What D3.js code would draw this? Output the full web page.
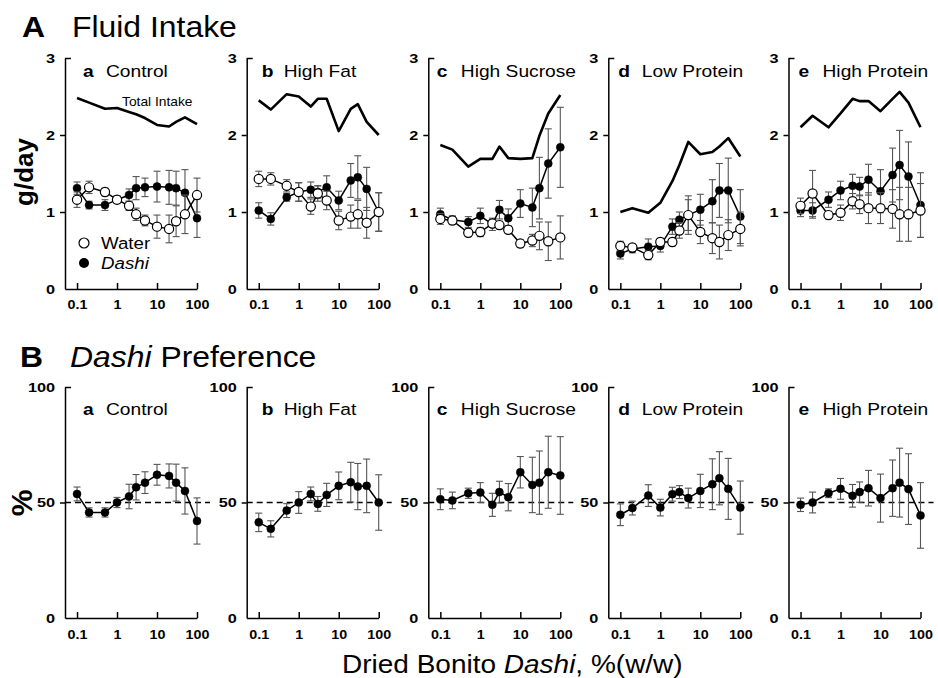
<!DOCTYPE html>
<html>
<head>
<meta charset="utf-8">
<script src="https://cdn.jsdelivr.net/npm/d3@7"></script>
<style>
  body { margin: 0; background: #fff; }
  text { font-family: "Liberation Sans", Arial, Helvetica, sans-serif; }
</style>
</head>
<body>
<div id="chart"></div>
<script>
// Chart Data
const conc = [0.1, 0.2, 0.5, 1, 2, 3, 5, 10, 20, 30, 50, 100];
const dietNames = ["Control", "High Fat", "High Sucrose", "Low Protein", "High Protein"];
const panelLetters = ["a", "b", "c", "d", "e"];

const totalIntake = [
  [2.48, 2.42, 2.34, 2.35, 2.30, 2.27, 2.22, 2.13, 2.11, 2.17, 2.23, 2.14],
  [2.45, 2.33, 2.53, 2.50, 2.37, 2.47, 2.47, 2.05, 2.34, 2.40, 2.17, 2.00],
  [1.87, 1.81, 1.59, 1.69, 1.69, 1.85, 1.70, 1.69, 1.70, 1.99, 2.28, 2.52],
  [1.00, 1.05, 0.99, 1.12, 1.40, 1.61, 1.91, 1.75, 1.78, 1.85, 1.96, 1.72],
  [2.10, 2.25, 2.10, 2.28, 2.47, 2.44, 2.44, 2.31, 2.47, 2.56, 2.42, 2.10]
];
const waterIntake = [
  [1.16, 1.32, 1.26, 1.16, 1.08, 0.97, 0.89, 0.81, 0.78, 0.88, 0.97, 1.22],
  [1.43, 1.43, 1.34, 1.26, 1.07, 1.24, 1.15, 0.89, 0.94, 0.97, 0.86, 1.00],
  [0.91, 0.89, 0.73, 0.74, 0.85, 0.83, 0.77, 0.59, 0.63, 0.69, 0.62, 0.67],
  [0.56, 0.54, 0.44, 0.61, 0.61, 0.76, 0.96, 0.74, 0.66, 0.61, 0.70, 0.78],
  [1.08, 1.24, 0.96, 0.99, 1.14, 1.10, 1.05, 1.05, 1.04, 0.97, 0.97, 1.02]
];
const waterSem = [
  [0.10, 0.08, 0.05, 0.04, 0.06, 0.08, 0.07, 0.15, 0.18, 0.20, 0.25, 0.22],
  [0.10, 0.08, 0.08, 0.12, 0.10, 0.10, 0.12, 0.12, 0.15, 0.18, 0.20, 0.25],
  [0.07, 0.05, 0.05, 0.06, 0.05, 0.05, 0.05, 0.05, 0.08, 0.18, 0.25, 0.28],
  [0.06, 0.04, 0.06, 0.05, 0.05, 0.10, 0.20, 0.15, 0.20, 0.22, 0.20, 0.22],
  [0.10, 0.30, 0.05, 0.10, 0.10, 0.12, 0.20, 0.20, 0.25, 0.35, 0.35, 0.35]
];
const dashiIntake = [
  [1.31, 1.09, 1.09, 1.16, 1.22, 1.31, 1.32, 1.33, 1.32, 1.31, 1.25, 0.92],
  [1.02, 0.91, 1.19, 1.26, 1.29, 1.26, 1.32, 1.15, 1.41, 1.45, 1.30, 1.00],
  [0.97, 0.90, 0.87, 0.95, 0.84, 1.03, 0.92, 1.11, 1.06, 1.31, 1.63, 1.84],
  [0.46, 0.52, 0.55, 0.56, 0.81, 0.90, 0.96, 1.03, 1.14, 1.28, 1.28, 0.94],
  [1.02, 1.02, 1.16, 1.28, 1.34, 1.33, 1.42, 1.27, 1.48, 1.61, 1.46, 1.09]
];
const dashiSem = [
  [0.08, 0.05, 0.07, 0.05, 0.08, 0.15, 0.12, 0.20, 0.22, 0.22, 0.30, 0.25],
  [0.10, 0.08, 0.05, 0.12, 0.10, 0.08, 0.15, 0.12, 0.22, 0.28, 0.28, 0.25],
  [0.08, 0.05, 0.07, 0.10, 0.08, 0.12, 0.12, 0.18, 0.25, 0.40, 0.45, 0.52],
  [0.07, 0.05, 0.10, 0.08, 0.10, 0.10, 0.25, 0.20, 0.28, 0.35, 0.42, 0.35],
  [0.08, 0.10, 0.10, 0.12, 0.15, 0.12, 0.20, 0.28, 0.35, 0.45, 0.45, 0.42]
];
const preference = [
  [53.7, 45.7, 45.7, 50.0, 52.6, 56.6, 58.6, 62.0, 61.5, 58.6, 55.0, 42.0],
  [41.4, 38.6, 46.5, 50.0, 53.7, 49.4, 53.3, 57.2, 58.8, 56.9, 57.2, 50.0],
  [51.4, 50.9, 54.0, 54.3, 49.0, 54.5, 52.3, 63.1, 57.6, 58.6, 63.1, 61.7],
  [44.7, 47.6, 53.0, 47.8, 53.6, 54.5, 51.9, 55.0, 57.9, 60.5, 55.9, 47.8],
  [49.0, 50.0, 54.0, 55.9, 52.9, 54.5, 56.2, 51.9, 56.2, 58.6, 55.8, 44.4]
];
const preferenceSem = [
  [3, 2, 2, 2.2, 5.3, 5.5, 4.7, 4.5, 5.2, 8, 10, 10],
  [4, 3.5, 3, 4.7, 3, 3.2, 5, 6, 8.6, 10, 11.6, 12],
  [4.5, 3.6, 2.2, 4.3, 5, 4.7, 5.9, 6.8, 12, 13.7, 15.6, 16.8],
  [4.7, 3, 4.7, 3.6, 3, 2.8, 4.3, 7.2, 11, 11.5, 13.2, 11.5],
  [2.9, 4.5, 1.9, 4.5, 4.9, 4.4, 7.7, 10.4, 12.2, 14.9, 15.3, 14.2]
];
const xTicks = [0.1, 1, 10, 100];
const yTicksA = [0, 1, 2, 3];
const yTicksB = [0, 50, 100];

// Layout
const width = 938, height = 678;
const panelX = [65, 246.7, 428.3, 608.3, 788.5];
const letterDx = [18, 15, 8.5, 10, 10];
const nameDx = [41, 37, 32.5, 33.5, 34];
const plotW = 132;

const svg = d3.select("#chart").append("svg")
  .attr("width", width)
  .attr("height", height);

const x = d3.scaleLog().domain([0.05, 100]).range([0, plotW]);
const yA = d3.scaleLinear().domain([0, 3]).range([289, 58]);
const yB = d3.scaleLinear().domain([0, 100]).range([618, 387]);

// stretched text helper (the figure's lettering is a bit wide)
function label(sel, px, py, str, o = {}) {
  return sel.append("text")
    .attr("transform", `translate(${px},${py}) scale(${o.sx || 1.1},1)`)
    .attr("font-size", o.size || 16)
    .attr("font-weight", o.weight || "normal")
    .attr("font-style", o.style || "normal")
    .attr("text-anchor", o.anchor || "start")
    .text(str);
}

function drawAxes(g, y, yTicks, pad) {
  const xa = g.append("g")
    .attr("transform", `translate(0,${y.range()[0]})`)
    .call(d3.axisBottom(x).tickValues(xTicks).tickFormat(d3.format("~g"))
      .tickSizeInner(-6).tickSizeOuter(0).tickPadding(pad));
  const ya = g.append("g")
    .call(d3.axisLeft(y).tickValues(yTicks).tickFormat(d3.format("d"))
      .tickSize(5).tickSizeOuter(0).tickPadding(5));
  [xa, ya].forEach(a => {
    a.attr("font-family", null).attr("font-size", 13).attr("font-weight", "bold");
    a.select(".domain").attr("stroke-width", 1.5);
    a.selectAll(".tick line").attr("stroke-width", 1.5);
  });
  xa.selectAll(".tick text").attr("transform", "scale(1.1,1)");
  ya.selectAll(".tick text").attr("x", -8).attr("transform", "scale(1.25,1)");
  ya.selectAll(".tick").filter(d => d === yTicks[yTicks.length - 1])
    .select("line").attr("x2", 6);
  ya.selectAll(".tick").filter(d => d === 0).select("line").remove();
}

function errorBars(g, vals, sems, y, color) {
  const eb = g.append("g").attr("stroke", color).attr("stroke-width", 1.1);
  conc.forEach((c, k) => {
    const cx = x(c), lo = y(vals[k] - sems[k]), hi = y(vals[k] + sems[k]);
    eb.append("line").attr("x1", cx).attr("x2", cx).attr("y1", lo).attr("y2", hi);
    eb.append("line").attr("x1", cx - 3.5).attr("x2", cx + 3.5).attr("y1", lo).attr("y2", lo);
    eb.append("line").attr("x1", cx - 3.5).attr("x2", cx + 3.5).attr("y1", hi).attr("y2", hi);
  });
}

function series(g, vals, sems, y, open, r) {
  errorBars(g, vals, sems, y, "#555");
  const line = d3.line().x((d, k) => x(conc[k])).y(d => y(d));
  g.append("path").datum(vals)
    .attr("d", line).attr("fill", "none").attr("stroke", "#000").attr("stroke-width", 1.5);
  g.selectAll(null).data(vals).enter().append("circle")
    .attr("cx", (d, k) => x(conc[k]))
    .attr("cy", d => y(d))
    .attr("r", r)
    .attr("fill", open ? "#fff" : "#000")
    .attr("stroke", "#000")
    .attr("stroke-width", open ? 1.2 : 0.5);
}

// Headers
label(svg, 22, 37, "A", { size: 29, weight: "bold" });
label(svg, 72, 37, "Fluid Intake", { size: 29 });
label(svg, 20, 367, "B", { size: 29, weight: "bold" });
const bTitle = label(svg, 70, 367, "", { size: 29 });
bTitle.append("tspan").attr("font-style", "italic").text("Dashi");
bTitle.append("tspan").text(" Preference");

// Y axis titles
svg.append("text").attr("transform", "translate(33,172) rotate(-90)")
  .attr("text-anchor", "middle").attr("font-size", 26).attr("font-weight", "bold").text("g/day");
svg.append("text").attr("transform", "translate(32,503) rotate(-90)")
  .attr("text-anchor", "middle").attr("font-size", 30).attr("font-weight", "bold").text("%");

// X axis title
const xt = label(svg, 342, 673, "Dried Bonito ", { size: 25, sx: 1.12 });
xt.append("tspan").attr("font-style", "italic").text("Dashi");
xt.append("tspan").text(", %(w/w)");

dietNames.forEach((name, i) => {
  // Row A: fluid intake
  const gA = svg.append("g").attr("transform", `translate(${panelX[i]},0)`);
  drawAxes(gA, yA, yTicksA, 11);
  label(gA, letterDx[i], 77, panelLetters[i], { size: 17, weight: "bold", sx: 1.13 });
  label(gA, nameDx[i], 77, name, { size: 17, sx: 1.13 });

  gA.append("path").datum(totalIntake[i])
    .attr("d", d3.line().x((d, k) => x(conc[k])).y(d => yA(d)))
    .attr("fill", "none").attr("stroke", "#000").attr("stroke-width", 2.6)
    .attr("stroke-linejoin", "round");

  series(gA, dashiIntake[i], dashiSem[i], yA, false, 4);
  series(gA, waterIntake[i], waterSem[i], yA, true, 4.6);

  if (i === 0) {
    label(gA, 57, 106, "Total Intake", { size: 12, sx: 1.15 });
    gA.append("circle").attr("cx", 19).attr("cy", 243).attr("r", 5)
      .attr("fill", "#fff").attr("stroke", "#000").attr("stroke-width", 1.2);
    gA.append("circle").attr("cx", 19).attr("cy", 263).attr("r", 5).attr("fill", "#000");
    label(gA, 36, 249, "Water", { size: 17 });
    label(gA, 36, 269, "Dashi", { size: 17, style: "italic" });
  }

  // Row B: preference
  const gB = svg.append("g").attr("transform", `translate(${panelX[i]},0)`);
  drawAxes(gB, yB, yTicksB, 12);
  label(gB, letterDx[i], 415, panelLetters[i], { size: 17, weight: "bold", sx: 1.13 });
  label(gB, nameDx[i], 415, name, { size: 17, sx: 1.13 });

  gB.append("line")
    .attr("x1", 0).attr("x2", plotW + 13)
    .attr("y1", yB(50)).attr("y2", yB(50))
    .attr("stroke", "#000").attr("stroke-width", 1.3)
    .attr("stroke-dasharray", "6,4");

  series(gB, preference[i], preferenceSem[i], yB, false, 4);
});
</script>
</body>
</html>
